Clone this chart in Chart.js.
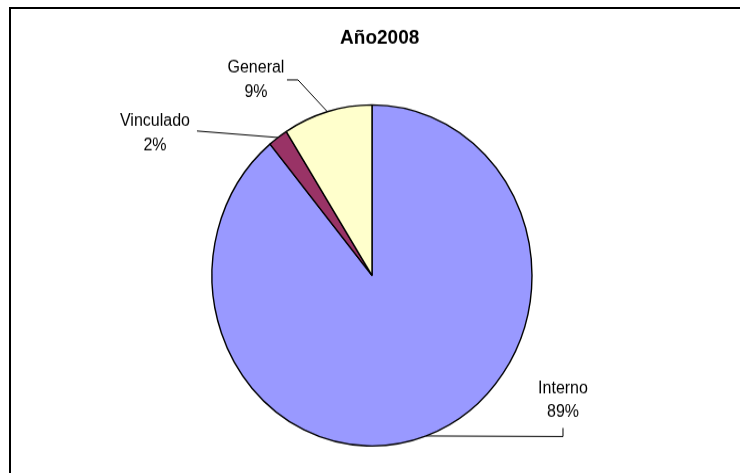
<!DOCTYPE html>
<html>
<head>
<meta charset="utf-8">
<script src="https://cdn.jsdelivr.net/npm/chart.js@4.4.0/dist/chart.umd.min.js"></script>
<style>
  html, body { margin: 0; padding: 0; background: #fff; overflow: hidden; width: 740px; height: 473px; }
  /* outer chart frame: only its top and left edges fall inside the page */
  #frame {
    position: absolute; left: 9px; top: 7px; width: 731px; height: 466px;
    border-top: 2px solid #000; border-left: 2px solid #000;
    box-sizing: border-box; pointer-events: none;
  }
  /* the drawing is slightly taller than wide, so the canvas is stretched vertically */
  #stage {
    position: absolute; left: 0; top: 0; width: 740px; height: 444px;
    transform: scale(1, 1.066); transform-origin: 0 0;
  }
</style>
</head>
<body>
<div id="stage"><canvas id="c" width="740" height="444"></canvas></div>
<div id="frame"></div>
<script>
// Data
const chartTitle = 'Año2008';
const categories = ['Interno', 'Vinculado', 'General'];
const shares = [89, 2, 9];
const sliceColors = ['#9999FF', '#993366', '#FFFFCC'];

const total = shares.reduce((a, b) => a + b, 0);
const percentLabels = shares.map(v => Math.round(v / total * 100) + '%');

// Callout labels with leader lines, placed relative to each slice's outer mid-point
const calloutPlugin = {
  id: 'callouts',
  afterDatasetsDraw(chart, args, opts) {
    const ctx = chart.ctx;
    const meta = chart.getDatasetMeta(0);
    ctx.save();
    ctx.strokeStyle = '#000';
    ctx.lineWidth = 1;
    ctx.fillStyle = '#000';
    ctx.font = opts.font;
    ctx.textAlign = 'center';
    ctx.textBaseline = 'alphabetic';
    meta.data.forEach((arc, i) => {
      const p = arc.getProps(['x', 'y', 'startAngle', 'endAngle', 'outerRadius'], true);
      const mid = (p.startAngle + p.endAngle) / 2;
      const ax = p.x + Math.cos(mid) * p.outerRadius;
      const ay = p.y + Math.sin(mid) * p.outerRadius;
      const c = opts.placement[i];
      ctx.beginPath();
      ctx.moveTo(ax, ay);
      c.leader.forEach(([dx, dy]) => ctx.lineTo(ax + dx, ay + dy));
      ctx.stroke();
      ctx.fillText(categories[i], ax + c.text[0], ay + c.text[1]);
      ctx.fillText(percentLabels[i], ax + c.text[0], ay + c.text[2]);
    });
    // chart title
    ctx.font = opts.titleFont;
    ctx.fillText(chartTitle, opts.titlePos[0], opts.titlePos[1]);
    ctx.restore();
  }
};

new Chart(document.getElementById('c'), {
  type: 'pie',
  data: {
    labels: categories,
    datasets: [{
      data: shares,
      backgroundColor: sliceColors,
      borderColor: '#000',
      borderWidth: 1.4,
      radius: 160
    }]
  },
  options: {
    responsive: false,
    animation: false,
    events: [],
    layout: { padding: { left: 4, right: 0, top: 72.8, bottom: 0 } },
    plugins: {
      legend: { display: false },
      tooltip: { enabled: false },
      title: { display: false },
      callouts: {
        font: '16px "Liberation Sans", Arial, sans-serif',
        titleFont: 'bold 19px "Liberation Sans", Arial, sans-serif',
        titlePos: [379.7, 41.3],
        placement: [
          { leader: [[136.8, 0.5], [136.8, -7.5]], text: [136.8, -40, -17.8] },
          { leader: [[-81, -6.1]], text: [-123, -10.8, 11.7] },
          { leader: [[-29.4, -29.8], [-40.4, -29.8]], text: [-71.4, -36.3, -14.1] }
        ]
      }
    }
  },
  plugins: [calloutPlugin]
});
</script>
</body>
</html>
